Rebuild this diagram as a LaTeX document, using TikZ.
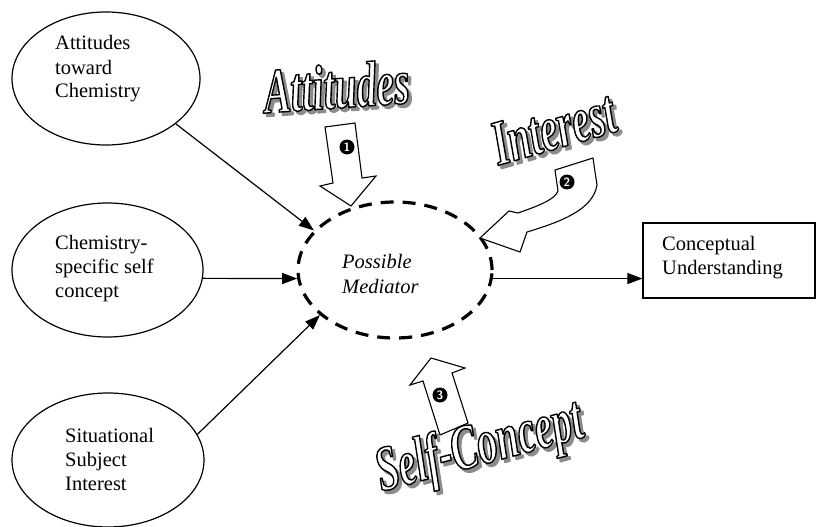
\documentclass[tikz,border=0pt]{standalone}
\usepackage{fontspec}
\setmainfont{Liberation Serif}
\newfontfamily\artfont[FakeStretch=0.62]{Liberation Serif}
\usetikzlibrary{arrows.meta,shapes.geometric,calc}

\tikzset{
  oval/.style={draw, ellipse, line width=1.2pt, inner sep=0pt},
  mediator/.style={draw, ellipse, line width=3.2pt, dash pattern=on 13pt off 9pt, inner sep=0pt},
  outcome/.style={draw, rectangle, line width=1.2pt, inner sep=0pt},
  lbl/.style={font=\fontsize{20.5}{24}\selectfont, align=left, inner sep=0pt, anchor=base west},
  conn/.style={line width=1.2pt, -{Triangle[length=15pt,width=11pt]}},
  blockarrow/.style={draw, fill=white, line width=1.1pt, line join=miter},
  numdot/.style={circle, fill=black, text=white, inner sep=0pt, minimum size=15pt,
    font=\sffamily\bfseries\fontsize{12}{12}\selectfont},
  art/.style={font=\artfont\bfseries\itshape\fontsize{64}{64}\selectfont, inner sep=0pt, anchor=base},
}

% outlined word with a grey drop shadow: #1 name, #2 base point, #3 angle, #4 word
\newcommand\wordart[4]{%
  \node[art, text=black!45, rotate=#3] (#1-shadow) at ($(#2)+(3.2,3.2)$)
    {\special{pdf:literal direct 2 Tr 1.6 w 0.55 G 1 j}#4\special{pdf:literal direct 0 Tr}};
  \node[art, text=white, rotate=#3] (#1) at (#2)
    {\special{pdf:literal direct 2 Tr 1.4 w 0 G 1 j}#4\special{pdf:literal direct 0 Tr}};
}

\begin{document}
\begin{tikzpicture}[x=1pt, y=-1pt]
  \useasboundingbox (0,0) rectangle (817,527);

  % factor ovals
  \node[oval, minimum width=188pt, minimum height=133pt] (att) at (106,78.5) {};
  \node[oval, minimum width=191pt, minimum height=134pt] (selfc) at (107.5,270) {};
  \node[oval, minimum width=192pt, minimum height=134pt] (sit) at (108,460) {};

  % (base anchor of a multi-line label sits on its last line)
  \node[lbl] (attlbl) at (55,98) {Attitudes\\toward\\Chemistry};
  \node[lbl] (selfclbl) at (55,297) {Chemistry-\\specific self\\concept};
  \node[lbl] (sitlbl) at (65,490) {Situational\\Subject\\Interest};

  % mediator and outcome
  \node[mediator, minimum width=194pt, minimum height=136pt] (med) at (395,270) {};
  \node[lbl, font=\itshape\fontsize{20.5}{25}\selectfont] (medlbl) at (342,293) {Possible\\Mediator};

  \node[outcome, minimum width=172pt, minimum height=75pt] (box) at (729,260.5) {};
  \node[lbl] (boxlbl) at (662,274) {Conceptual\\Understanding};

  % paths
  \draw[conn] (att.-33) -- (med.154.6);
  \draw[conn] (selfc.-5.4) -- (med.185.35);
  \draw[conn] (sit.16.4) -- (med.211.9);
  \draw[conn] (med.-5.35) -- (med.-5.35 -| box.west);

  % block arrow 1 (down)
  \draw[blockarrow] (325,127) -- (355,123) -- (362,178) -- (376,176) -- (351,206)
    -- (320,186) -- (333,183) -- cycle;
  \node[numdot] (n1) at (347,147) {1};

  % block arrow 2 (curved)
  \draw[blockarrow] (555,170) -- (593,158) -- (597,185)
    .. controls (593,210) and (560,222) .. (527,232) -- (520,252) -- (480,238)
    -- (509,211) -- (518,213) .. controls (535,207) and (555,200) .. (558,191) -- cycle;
  \node[numdot] (n2) at (567,182) {2};

  % block arrow 3 (up)
  \draw[blockarrow] (431,358) -- (465,368) -- (452,373) -- (468,423) -- (440,435)
    -- (423,381) -- (410,385) -- cycle;
  \node[numdot] (n3) at (440,395) {3};

  % titles
  \wordart{wattitudes}{338,108}{4}{Attitudes}
  \wordart{winterest}{559,148}{16}{Interest}
  \wordart{wselfconcept}{484,464}{15}{Self-Concept}
\end{tikzpicture}
\end{document}
